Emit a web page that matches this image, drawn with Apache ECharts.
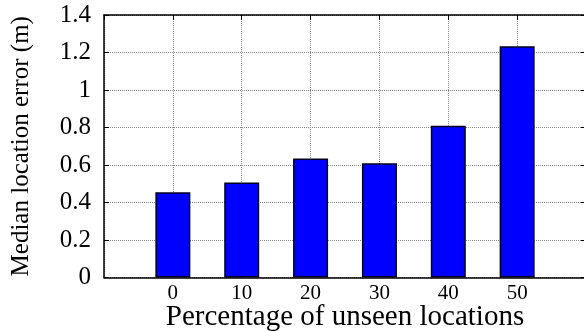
<!DOCTYPE html>
<html><head><meta charset="utf-8">
<script src="https://cdn.jsdelivr.net/npm/echarts@6/dist/echarts.min.js"></script>
<style>html,body{margin:0;padding:0;background:#fff}#c{width:584px;height:332px}</style>
</head><body><div id="c"></div>
<script>
const categories = [0, 10, 20, 30, 40, 50];
const medianError = [0.455, 0.507, 0.635, 0.61, 0.81, 1.233];
const xAxisName = 'Percentage of unseen locations';
const yAxisName = 'Median location error (m)';

const font = 'Liberation Serif';
const chart = echarts.init(document.getElementById('c'), null, {renderer: 'canvas'});
const grid = {left: 104, top: 15, right: -2, bottom: 54.5, outerBoundsMode: 'none', containLabel: false};
const dotted = {show: true, lineStyle: {color: '#888', type: [1, 1], width: 1}};
const axisLine = {show: true, onZero: false, lineStyle: {color: '#000', width: 1.5}};
chart.setOption({
  animation: false,
  grid: grid,
  xAxis: [{
    type: 'value', min: -10, max: 60, interval: 10, position: 'bottom',
    axisLine: axisLine,
    axisTick: {show: false},
    splitLine: dotted,
    axisLabel: {fontFamily: font, fontSize: 21, color: '#000', margin: 5,
      formatter: v => (categories.indexOf(v) >= 0 ? String(v) : '')},
    name: xAxisName, nameLocation: 'middle', nameGap: 25, nameMoveOverlap: false,
    nameTextStyle: {fontFamily: font, fontSize: 29, color: '#000'}
  }, {
    type: 'value', min: -10, max: 60, interval: 10, position: 'top',
    axisLine: axisLine,
    axisTick: {show: true, inside: true, length: 5, lineStyle: {color: '#000'}},
    axisLabel: {show: false}, splitLine: {show: false}
  }],
  yAxis: [{
    type: 'value', min: 0, max: 1.4, interval: 0.2, position: 'left',
    axisLine: axisLine,
    axisTick: {show: true, inside: true, length: 5, lineStyle: {color: '#000'}},
    splitLine: dotted,
    axisLabel: {fontFamily: font, fontSize: 25, color: '#000', margin: 13},
    name: yAxisName, nameLocation: 'middle', nameGap: 70, nameMoveOverlap: false,
    nameTextStyle: {fontFamily: font, fontSize: 25, color: '#000'}
  }, {
    type: 'value', min: 0, max: 1.4, interval: 0.2, position: 'right',
    axisLine: axisLine,
    axisTick: {show: true, inside: true, length: 5, lineStyle: {color: '#000'}},
    axisLabel: {show: false}, splitLine: {show: false}
  }],
  series: [{
    type: 'bar', xAxisIndex: 0, yAxisIndex: 0,
    data: categories.map((c, i) => [c, medianError[i]]),
    barWidth: 35,
    itemStyle: {color: '#0000ff', borderColor: '#000022', borderWidth: 1.5}
  }]
});
</script></body></html>
